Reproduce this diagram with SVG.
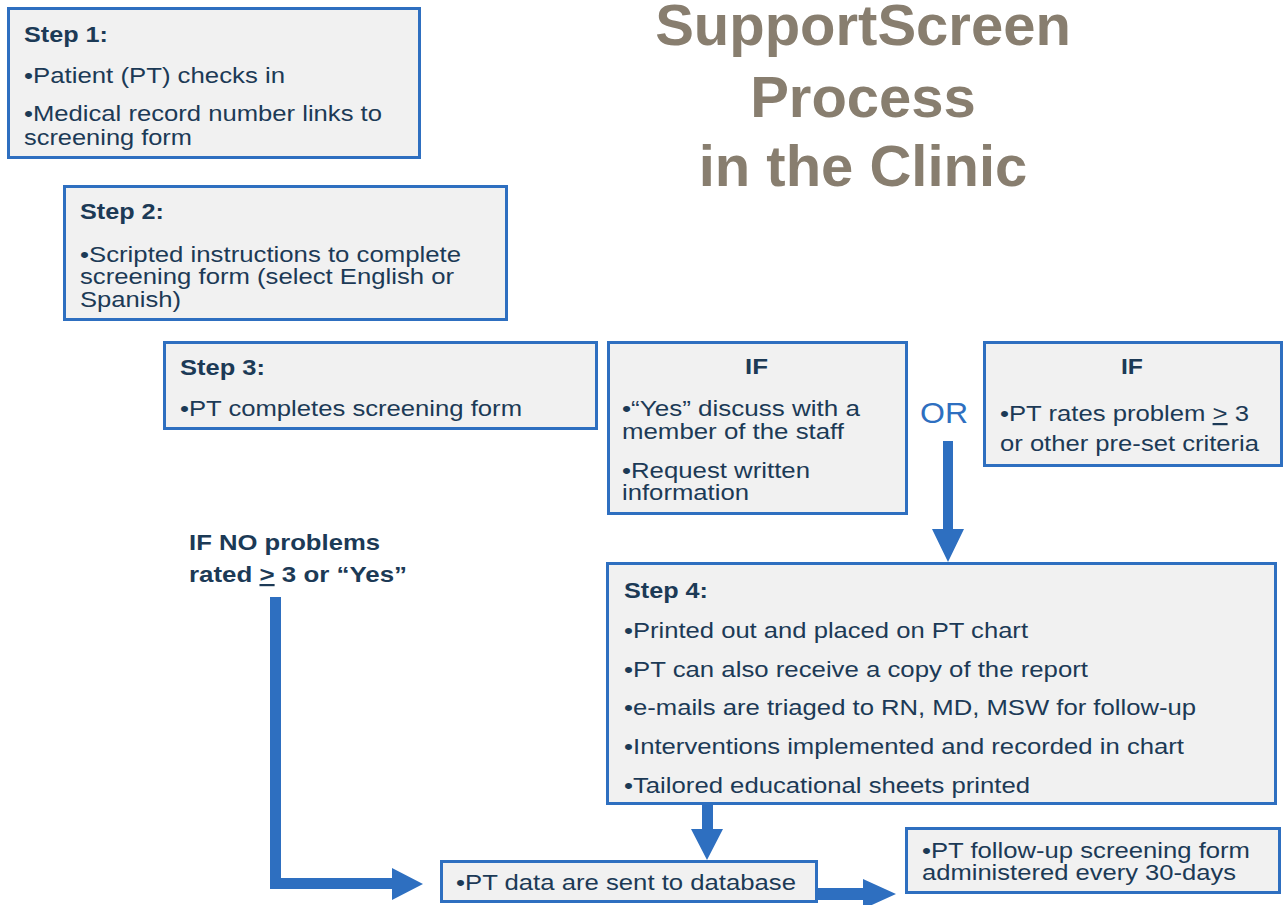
<svg xmlns="http://www.w3.org/2000/svg" width="1283" height="905" viewBox="0 0 1283 905">
<style>
.box{fill:#f1f1f1;stroke:#2e6fc0;stroke-width:3}
.t{font-family:"Liberation Sans",Arial,sans-serif;font-size:22px;fill:#1c3a56}
.h{font-family:"Liberation Sans",Arial,sans-serif;font-size:22px;font-weight:bold;fill:#1c3a56}
.title{font-family:"Liberation Sans",Arial,sans-serif;font-size:58px;font-weight:bold;fill:#887e6f;text-anchor:middle}
.arrow{fill:#2e6fc0}
.or{font-family:"Liberation Sans",Arial,sans-serif;font-size:29px;fill:#2e6fc0}
.u{text-decoration:underline}
</style>
<rect width="1283" height="905" fill="#ffffff"/>
<g id="title">
<text class="title" x="863" y="45">SupportScreen</text>
<text class="title" x="863" y="117">Process</text>
<text class="title" x="863" y="186">in the Clinic</text>
</g>
<g id="step1">
<rect class="box" x="8.5" y="8.5" width="411" height="149"/>
<text class="h" x="24" y="42" textLength="84" lengthAdjust="spacingAndGlyphs">Step 1:</text>
<text class="t" x="24" y="83" textLength="261" lengthAdjust="spacingAndGlyphs">•Patient (PT) checks in</text>
<text class="t" x="24" y="121" textLength="358" lengthAdjust="spacingAndGlyphs">•Medical record number links to</text>
<text class="t" x="24" y="145" textLength="168" lengthAdjust="spacingAndGlyphs">screening form</text>
</g>
<g id="step2">
<rect class="box" x="64.5" y="186.5" width="442" height="133"/>
<text class="h" x="80" y="219" textLength="84" lengthAdjust="spacingAndGlyphs">Step 2:</text>
<text class="t" x="80" y="262" textLength="381" lengthAdjust="spacingAndGlyphs">•Scripted instructions to complete</text>
<text class="t" x="80" y="284" textLength="374" lengthAdjust="spacingAndGlyphs">screening form (select English or</text>
<text class="t" x="80" y="307" textLength="101" lengthAdjust="spacingAndGlyphs">Spanish)</text>
</g>
<g id="step3">
<rect class="box" x="164.5" y="342.5" width="432" height="86"/>
<text class="h" x="180" y="375" textLength="85" lengthAdjust="spacingAndGlyphs">Step 3:</text>
<text class="t" x="180" y="416" textLength="342" lengthAdjust="spacingAndGlyphs">•PT completes screening form</text>
</g>
<g id="if1">
<rect class="box" x="608.5" y="342.5" width="298" height="171"/>
<text class="h" x="745" y="374" textLength="23" lengthAdjust="spacingAndGlyphs">IF</text>
<text class="t" x="622" y="416" textLength="238" lengthAdjust="spacingAndGlyphs">•“Yes” discuss with a</text>
<text class="t" x="622" y="439" textLength="222" lengthAdjust="spacingAndGlyphs">member of the staff</text>
<text class="t" x="622" y="478" textLength="188" lengthAdjust="spacingAndGlyphs">•Request written</text>
<text class="t" x="622" y="500" textLength="127" lengthAdjust="spacingAndGlyphs">information</text>
</g>
<g id="if2">
<rect class="box" x="984.5" y="342.5" width="297" height="123"/>
<text class="h" x="1121" y="374" textLength="22" lengthAdjust="spacingAndGlyphs">IF</text>
<text class="t" x="1000" y="421" textLength="249" lengthAdjust="spacingAndGlyphs">•PT rates problem <tspan class="u">&gt;</tspan> 3</text>
<text class="t" x="1000" y="451" textLength="259" lengthAdjust="spacingAndGlyphs">or other pre-set criteria</text>
</g>
<g id="step4">
<rect class="box" x="607.5" y="563.5" width="668" height="240"/>
<text class="h" x="624" y="598" textLength="84" lengthAdjust="spacingAndGlyphs">Step 4:</text>
<text class="t" x="624" y="638" textLength="404" lengthAdjust="spacingAndGlyphs">•Printed out and placed on PT chart</text>
<text class="t" x="624" y="677" textLength="464" lengthAdjust="spacingAndGlyphs">•PT can also receive a copy of the report</text>
<text class="t" x="624" y="715" textLength="572" lengthAdjust="spacingAndGlyphs">•e-mails are triaged to RN, MD, MSW for follow-up</text>
<text class="t" x="624" y="754" textLength="560" lengthAdjust="spacingAndGlyphs">•Interventions implemented and recorded in chart</text>
<text class="t" x="624" y="793" textLength="406" lengthAdjust="spacingAndGlyphs">•Tailored educational sheets printed</text>
</g>
<g id="database">
<rect class="box" x="441.5" y="861.5" width="375" height="40"/>
<text class="t" x="456" y="890" textLength="340" lengthAdjust="spacingAndGlyphs">•PT data are sent to database</text>
</g>
<g id="followup">
<rect class="box" x="906.5" y="828.5" width="373" height="64"/>
<text class="t" x="922" y="858" textLength="328" lengthAdjust="spacingAndGlyphs">•PT follow-up screening form</text>
<text class="t" x="922" y="880" textLength="314" lengthAdjust="spacingAndGlyphs">administered every 30-days</text>
</g>
<g id="connectors">
<polygon class="arrow" points="943,441 953,441 953,529 964,529 948,562 932,529 943,529"/>
<polygon class="arrow" points="702,805 713,805 713,829 723,829 707,860 691,829 702,829"/>
<polygon class="arrow" points="270,597 281,597 281,878 392,878 392,868 423,884 392,900 392,889 270,889"/>
<polygon class="arrow" points="818,888 863,888 863,879 896,894 863,909 863,900 818,900"/>
<text class="or" x="920" y="423" textLength="48" lengthAdjust="spacingAndGlyphs">OR</text>
<text class="h" x="189" y="550" textLength="191" lengthAdjust="spacingAndGlyphs">IF NO problems</text>
<text class="h" x="189" y="582" textLength="218" lengthAdjust="spacingAndGlyphs">rated <tspan class="u">&gt;</tspan> 3 or “Yes”</text>
</g>
</svg>
